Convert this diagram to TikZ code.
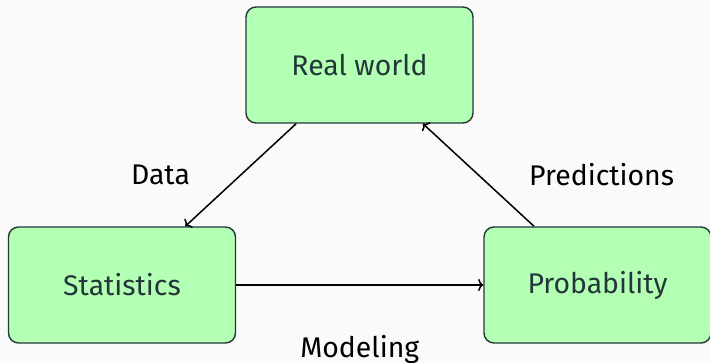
\documentclass[tikz,border=0pt]{standalone}
\usepackage{fontspec}
\setmainfont{Fira Sans}
\definecolor{darkteal}{HTML}{23373B}
\definecolor{lightbg}{HTML}{FAFAFA}
\definecolor{boxgreen}{HTML}{B3FFB3}
\usetikzlibrary{arrows.meta, positioning}

\begin{document}
\begin{tikzpicture}[
                x=0.5pt, y=-0.5pt,
                font=\fontsize{14.2}{17}\selectfont,
                box/.style={rectangle, draw=darkteal, fill=boxgreen, line width=0.7pt,
                            rounded corners=5pt, minimum width=113.5pt,
                            minimum height=58pt, align=center, text=darkteal},
                arr/.style={-{To[length=2.6pt, width=6pt]}, line width=0.75pt, black},
                lbl/.style={inner sep=0pt, text=black}
            ]
                \fill[lightbg] (0,0) rectangle (710,363);
                \useasboundingbox (0,0) rectangle (710,363);

                \node[box] (real) at (359.5,65) {Real world};
                \node[box] (stats) at (122,285) {Statistics};
                \node[box] (prob) at (597.5,285) {Probability};

                \draw[arr] (real) -- (stats)
                    node[midway, lbl, left=25pt] (data) {Data};
                \draw[arr] (stats) -- (prob)
                    node[midway, lbl, below=25pt] (model) {Modeling};
                \draw[arr] (prob) -- (real)
                    node[midway, lbl, right=25pt] (pred) {Predictions};
            \end{tikzpicture}
\end{document}
